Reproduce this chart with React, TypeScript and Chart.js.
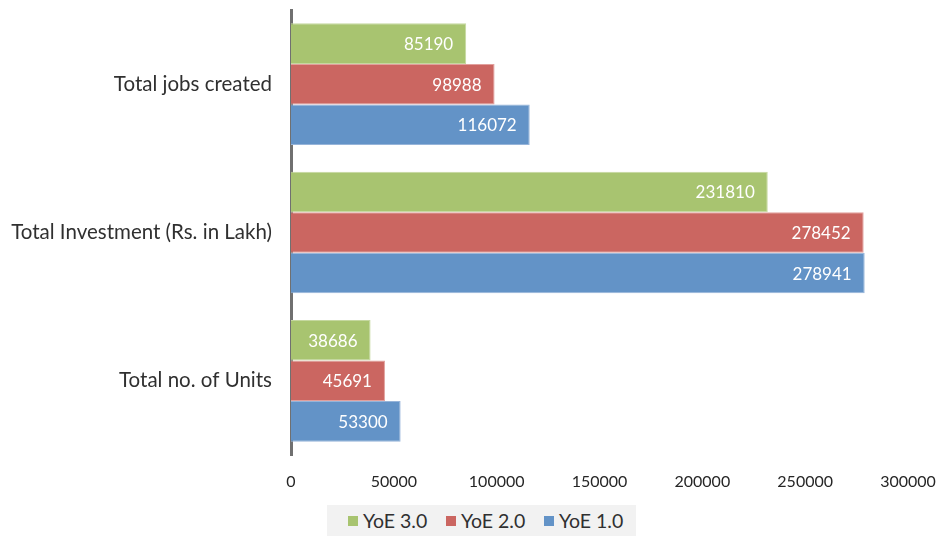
import React, { useEffect, useRef } from "react";
import { Chart, registerables } from "chart.js";

Chart.register(...registerables);

const categories = ["Total jobs created", "Total Investment (Rs. in Lakh)", "Total no. of Units"];
const seriesNames = ["YoE 3.0", "YoE 2.0", "YoE 1.0"];
const yoe3 = [85190, 231810, 38686];
const yoe2 = [98988, 278452, 45691];
const yoe1 = [116072, 278941, 53300];
const xTickMax = 300000;
const xTickStep = 50000;

const fills = ["#A8C470", "#CB6661", "#6393C7"];
const borders = ["#C5D89F", "#E2A09D", "#96B4D9"];
const FONT = "Lato, 'Open Sans', sans-serif";

const valueLabels = {
  id: "valueLabels",
  afterDatasetsDraw(chart: any) {
    const ctx = chart.ctx;
    ctx.save();
    ctx.font = `17px ${FONT}`;
    ctx.fillStyle = "#ffffff";
    ctx.textAlign = "right";
    ctx.textBaseline = "middle";
    chart.data.datasets.forEach((ds: any, i: number) => {
      const meta = chart.getDatasetMeta(i);
      meta.data.forEach((bar: any, j: number) => {
        ctx.fillText(String(ds.data[j]), bar.x - 13, bar.y + 1);
      });
    });
    ctx.restore();
  },
};

export default function App() {
  const ref = useRef<HTMLCanvasElement>(null);
  useEffect(() => {
    document.body.style.margin = "0";
    const chart = new Chart(ref.current!, {
      type: "bar",
      data: {
        labels: categories,
        datasets: [yoe3, yoe2, yoe1].map((d, i) => ({
          label: seriesNames[i],
          data: d,
          backgroundColor: fills[i],
          borderColor: borders[i],
          borderWidth: 1,
          barPercentage: 1,
          categoryPercentage: 0.82,
        })),
      },
      options: {
        indexAxis: "y",
        animation: false,
        responsive: false,
        layout: { padding: { top: 10, right: 35, left: 0, bottom: 0 } },
        plugins: { legend: { display: false }, tooltip: { enabled: false } },
        scales: {
          x: {
            min: 0,
            max: xTickMax,
            grid: { display: false, drawTicks: false },
            border: { display: false },
            ticks: {
              stepSize: xTickStep,
              color: "#262626",
              font: { family: FONT, size: 16 },
              padding: 17,
              maxRotation: 0,
              callback: (v: any) => String(v),
            },
            afterFit: (s: any) => {
              s.height = 81;
              s.paddingLeft = 0;
              s.paddingRight = 0;
            },
          },
          y: {
            grid: { display: false, drawTicks: false },
            border: { display: true, color: "#707070", width: 3 },
            ticks: {
              color: "#303030",
              font: { family: FONT, size: 20.5 },
              padding: 19,
            },
            afterFit: (s: any) => {
              s.width = 291;
              s.paddingTop = 0;
              s.paddingBottom = 0;
            },
          },
        },
      },
      plugins: [valueLabels],
    });
    return () => chart.destroy();
  }, []);

  return (
    <div style={{ position: "absolute", left: 0, top: 0, width: 943, height: 536, background: "#fff" }}>
      <canvas ref={ref} width={943} height={536} style={{ display: "block" }} />
      <div
        style={{
          position: "absolute",
          left: 327,
          top: 505,
          width: 309,
          height: 31,
          boxSizing: "border-box",
          paddingLeft: 21,
          background: "#F2F2F2",
          display: "flex",
          alignItems: "center",
          fontFamily: FONT,
          fontSize: 19.5,
          color: "#303030",
        }}
      >
        {seriesNames.map((n, i) => (
          <div key={n} style={{ display: "flex", alignItems: "center", width: 98, flex: "0 0 98px" }}>
            <span style={{ display: "inline-block", width: 10, height: 10, background: fills[i], marginRight: 5 }} />
            <span style={{ lineHeight: "31px" }}>{n}</span>
          </div>
        ))}
      </div>
    </div>
  );
}
